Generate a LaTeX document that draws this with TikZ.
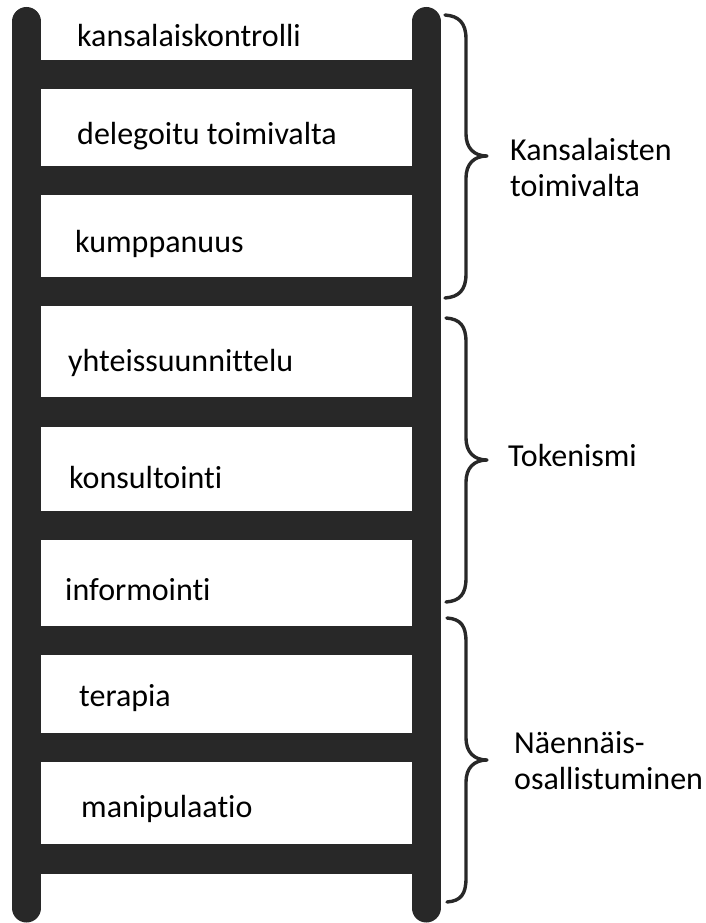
\documentclass[tikz,border=0pt]{standalone}
\usepackage{fontspec}
\setmainfont{Carlito}[Ligatures=NoCommon]
\definecolor{ink}{HTML}{282828}
\tikzset{
  rail/.style={line width=29pt, draw=ink, line cap=round},
  rung/.style={fill=ink, draw=none},
  lbl/.style={anchor=base west, inner sep=0pt, text=black, font=\fontsize{32}{36}\selectfont},
  grp/.style={anchor=base west, inner sep=0pt, text=black, align=left, font=\fontsize{32}{36}\selectfont},
  brace/.style={draw=ink, line width=3.4pt, line cap=round, line join=round}
}
\newcommand{\mybrace}[4]{% x-start, top, bottom, tip-y
  \draw[brace] (#1,#2) .. controls (#1+14,#2+1) and (466,#2+8) .. (466,#2+24)
    -- (466,#4-22) .. controls (466,#4-8) and (474,#4) .. (487,#4)
    .. controls (474,#4) and (466,#4+8) .. (466,#4+22)
    -- (466,#3-24) .. controls (466,#3-8) and (#1+14,#3-1) .. (#1,#3);
}
\begin{document}
\begin{tikzpicture}[x=1pt,y=-1pt]
\useasboundingbox (0,0) rectangle (706,923);
% rungs
\foreach \t/\b in {60/89,166/195,277/306,397/427,511/540,626/655,733/762,844/874}
  \fill[rung] (12,\t) rectangle (441,\b);
% rails
\draw[rail] (26.5,21.5) -- (26.5,908);
\draw[rail] (426,21.5) -- (426,908);
% rung labels
\node[lbl] (r8) at (77,47) {kansalaiskontrolli};
\node[lbl] (r7) at (77,145) {delegoitu toimivalta};
\node[lbl] (r6) at (75,252) {kumppanuus};
\node[lbl] (r5) at (68,371) {yhteissuunnittelu};
\node[lbl] (r4) at (69,488) {konsultointi};
\node[lbl] (r3) at (65,600) {informointi};
\node[lbl] (r2) at (79,706) {terapia};
\node[lbl] (r1) at (81,817) {manipulaatio};
% braces
\mybrace{445}{15}{298}{156}
\mybrace{446}{318}{602}{460}
\mybrace{447}{618}{902}{760}
% group labels (base = baseline of last line)
\node[grp] (g1) at (510,196) {Kansalaisten\\toimivalta};
\node[grp] (g2) at (508,466) {Tokenismi};
\node[grp] (g3) at (514,789) {Näennäis-\\osallistuminen};
\end{tikzpicture}
\end{document}
